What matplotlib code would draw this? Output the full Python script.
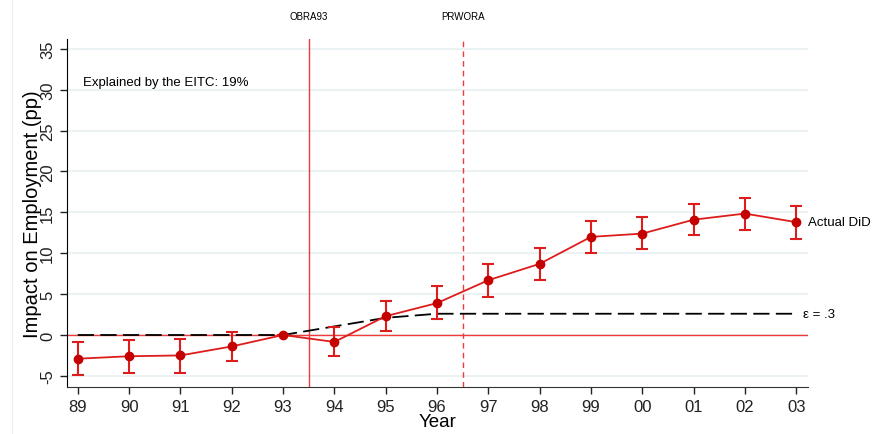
import numpy as np
import matplotlib.pyplot as plt
from matplotlib.lines import Line2D

plt.rcParams['font.family'] = ['Liberation Sans', 'DejaVu Sans']

years = [89, 90, 91, 92, 93, 94, 95, 96, 97, 98, 99, 100, 101, 102, 103]
year_labels = ['89', '90', '91', '92', '93', '94', '95', '96', '97', '98', '99', '00', '01', '02', '03']
did = [-2.9, -2.6, -2.5, -1.4, 0.0, -0.85, 2.3, 3.9, 6.7, 8.7, 12.0, 12.4, 14.1, 14.85, 13.8]
ci_hi = [-0.85, -0.6, -0.5, 0.35, 0.0, 1.0, 4.2, 6.0, 8.7, 10.7, 14.0, 14.4, 16.0, 16.8, 15.8]
ci_lo = [-4.9, -4.6, -4.6, -3.2, 0.0, -2.6, 0.45, 1.9, 4.7, 6.7, 10.0, 10.5, 12.2, 12.9, 11.8]
eps3 = [0, 0, 0, 0, 0, 1.05, 2.1, 2.6, 2.6, 2.6, 2.6, 2.6, 2.6, 2.6, 2.6]
yticks = [-5, 0, 5, 10, 15, 20, 25, 30, 35]

line_red = '#dd1c1c'
dot_red = '#c40000'
ref_red = '#f23a3a'
fig = plt.figure(figsize=(8.86, 4.35), dpi=100)
ax = fig.add_axes([67/886, 47/435, 741/886, 348/435])

for t in yticks:
    ax.axhline(t, color='#e8f0f2', lw=1.2, zorder=0)
ax.axhline(0, color=ref_red, lw=1.0, zorder=1)
ax.axvline(93.5, color=ref_red, lw=1.0, zorder=1)
ax.axvline(96.5, color=ref_red, lw=1.0, ls=(0, (4, 3)), zorder=1)

ax.plot(years, eps3, color='black', lw=1.3, dashes=(9, 3.5), zorder=2)

err = [np.array(did) - np.array(ci_lo), np.array(ci_hi) - np.array(did)]
ax.errorbar(years, did, yerr=err, fmt='none', ecolor=line_red,
            elinewidth=1.5, capsize=4, capthick=1.5, zorder=3)
ax.plot(years, did, '-', color=line_red, lw=1.3, zorder=3)
ax.plot(years, did, 'o', color=dot_red, ms=6, zorder=4)

ax.set_xlim(88.79, 103.23)
ax.set_ylim(-6.36, 36.2)
ax.set_xticks(years)
ax.set_xticklabels(year_labels)
ax.set_yticks(yticks)
ax.set_yticklabels([str(t) for t in yticks], rotation=90, va='center')
ax.tick_params(labelsize=12, length=5, width=1, colors='#222222', direction='out')
for s in ['top', 'right']:
    ax.spines[s].set_visible(False)
ax.spines['left'].set_color('black')
ax.spines['bottom'].set_color('#333333')
ax.set_xlabel('Year', fontsize=13.5)
ax.set_ylabel('Impact on Employment (pp)', fontsize=14.5)
ax.xaxis.set_label_coords(0.5, -0.075)
ax.yaxis.set_label_coords(-0.034, 0.5)

ax.text(89.1, 31.0, 'Explained by the EITC: 19%', fontsize=9.5, va='center')
ax.text(103.23, did[-1], 'Actual DiD', fontsize=9.5, va='center', clip_on=False)
ax.text(103.13, eps3[-1], '\u03b5 = .3', fontsize=9.5, va='center', clip_on=False)

trans = ax.get_xaxis_transform()
ax.text(93.5, 1.066, 'OBRA93', fontsize=7, ha='center', va='center', transform=trans)
ax.text(96.5, 1.066, 'PRWORA', fontsize=7, ha='center', va='center', transform=trans)

fig.add_artist(Line2D([12/886, 12/886], [0, 1], color='#eeeeee', lw=0.8))

fig.savefig('out.png', dpi=100)
